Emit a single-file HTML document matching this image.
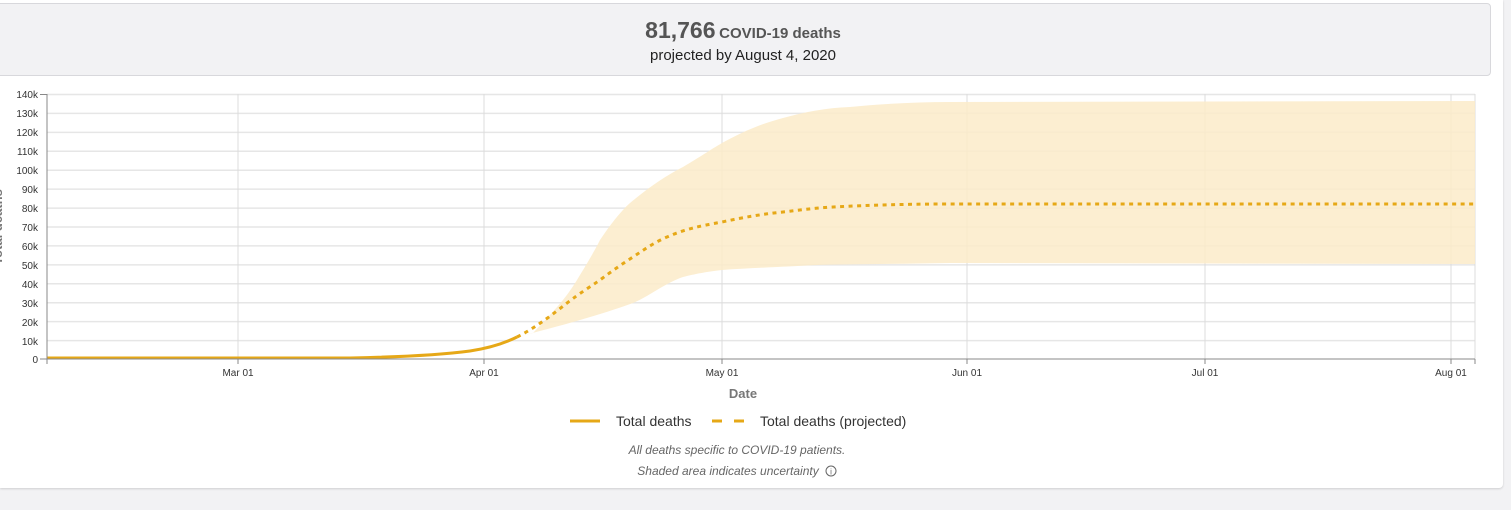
<!DOCTYPE html>
<html><head><meta charset="utf-8"><style>
body{margin:0;width:1511px;height:510px;background:#f2f2f4;font-family:"Liberation Sans",sans-serif;overflow:hidden;position:relative}
.card{position:absolute;left:0;top:0;width:1503px;height:488px;background:#fff;border-radius:0 0 4px 0;box-shadow:0 1px 2px rgba(0,0,0,.15)}
.hdr{position:absolute;left:-5px;top:3px;width:1494px;height:71px;background:#f2f2f4;border:1px solid #d8d8dc;border-radius:4px;text-align:center;color:#333}
</style></head><body>
<div class="card"></div>
<div class="hdr">
<div style="margin-top:13px;font-size:13px"><span style="font-size:23px;font-weight:bold;color:#555">81,766</span> <span style="font-size:15px;font-weight:bold;color:#555">COVID-19 deaths</span></div>
<div style="margin-top:3px;font-size:15px;color:#222">projected by August 4, 2020</div>
</div>
<svg width="1511" height="510" style="position:absolute;left:0;top:0" font-family="Liberation Sans, sans-serif">
<g stroke="#e6e6e6" stroke-width="1.5">
<line x1="47" x2="1475" y1="94.5" y2="94.5"/><line x1="47" x2="1475" y1="113.4" y2="113.4"/><line x1="47" x2="1475" y1="132.4" y2="132.4"/><line x1="47" x2="1475" y1="151.3" y2="151.3"/><line x1="47" x2="1475" y1="170.2" y2="170.2"/><line x1="47" x2="1475" y1="189.1" y2="189.1"/><line x1="47" x2="1475" y1="208.1" y2="208.1"/><line x1="47" x2="1475" y1="227" y2="227"/><line x1="47" x2="1475" y1="245.9" y2="245.9"/><line x1="47" x2="1475" y1="264.9" y2="264.9"/><line x1="47" x2="1475" y1="283.8" y2="283.8"/><line x1="47" x2="1475" y1="302.7" y2="302.7"/><line x1="47" x2="1475" y1="321.6" y2="321.6"/><line x1="47" x2="1475" y1="340.6" y2="340.6"/>
</g>
<g stroke="#dcdcdc"><line x1="238" x2="238" y1="94" y2="359"/><line x1="484" x2="484" y1="94" y2="359"/><line x1="722" x2="722" y1="94" y2="359"/><line x1="967" x2="967" y1="94" y2="359"/><line x1="1205" x2="1205" y1="94" y2="359"/><line x1="1451" x2="1451" y1="94" y2="359"/><line x1="1475" x2="1475" y1="94" y2="359"/></g>
<path d="M517,337 L533,333 C550,315 565,300 577,280 C588,262 595,250 600,240 C610,225 620,212 630,203 C648,188 665,176 683,167 C700,157 710,150 722,143 C740,133 760,124 783,118 C805,112 825,108 850,107 C880,104 915,102 950,102 L1475,101 L1475,264 L950,263 C900,264 850,264 817,265 C780,267 750,268 722,270 C705,272 695,274 683,277 C665,283 650,296 633,303 C600,315 560,326 517,337Z" fill="#fcebc9" opacity="0.85"/>
<path d="M517,337 C535,328 552,315 567,303 C580,293 590,287 600,280 C612,271 622,264 633,257 C645,249 655,242 667,237 C685,229 700,226 722,222 C745,217 763,214 783,212 C800,210 815,208 833,207 C870,205 910,204 950,204 L1475,204" fill="none" stroke="#e6a817" stroke-width="3" stroke-dasharray="4,4.5"/>
<path d="M47,358 L350,358 C400,357 440,355 470,351 C490,348 505,343 517,337" fill="none" stroke="#e6a817" stroke-width="3"/>
<g stroke="#888"><line x1="47" x2="47" y1="94" y2="364"/><line x1="47" x2="1475" y1="359" y2="359"/><line x1="1475" x2="1475" y1="359" y2="364"/><line x1="238" x2="238" y1="359" y2="364"/><line x1="484" x2="484" y1="359" y2="364"/><line x1="722" x2="722" y1="359" y2="364"/><line x1="967" x2="967" y1="359" y2="364"/><line x1="1205" x2="1205" y1="359" y2="364"/><line x1="1451" x2="1451" y1="359" y2="364"/></g>
<g font-size="10" fill="#333" text-anchor="end">
<text x="38" y="98">140k</text><text x="38" y="117">130k</text><text x="38" y="136">120k</text><text x="38" y="155">110k</text><text x="38" y="174">100k</text><text x="38" y="193">90k</text><text x="38" y="212">80k</text><text x="38" y="231">70k</text><text x="38" y="250">60k</text><text x="38" y="269">50k</text><text x="38" y="288">40k</text><text x="38" y="307">30k</text><text x="38" y="326">20k</text><text x="38" y="345">10k</text><text x="38" y="363">0</text>
</g>
<g stroke="#888"><line x1="40" x2="47" y1="94.5" y2="94.5"/><line x1="40" x2="47" y1="359" y2="359"/></g>
<g font-size="10" fill="#333" text-anchor="middle"><text x="238" y="376">Mar 01</text><text x="484" y="376">Apr 01</text><text x="722" y="376">May 01</text><text x="967" y="376">Jun 01</text><text x="1205" y="376">Jul 01</text><text x="1451" y="376">Aug 01</text></g>
<text x="2" y="227" transform="rotate(-90 2 227)" font-size="13" font-weight="bold" fill="#777" text-anchor="middle">Total deaths</text>
<text x="743" y="398" font-size="13" font-weight="bold" fill="#777" text-anchor="middle">Date</text>
<line x1="570" x2="600" y1="421" y2="421" stroke="#e6a817" stroke-width="3"/>
<text x="616" y="426" font-size="14" fill="#333">Total deaths</text>
<line x1="712" x2="744" y1="421" y2="421" stroke="#e6a817" stroke-width="3" stroke-dasharray="10,12"/>
<text x="760" y="426" font-size="14" fill="#333">Total deaths (projected)</text>
<text x="737" y="454" font-size="12" font-style="italic" fill="#666" text-anchor="middle">All deaths specific to COVID-19 patients.</text>
<text x="728" y="475" font-size="12" font-style="italic" fill="#666" text-anchor="middle">Shaded area indicates uncertainty</text>
<circle cx="831" cy="471" r="5" fill="none" stroke="#666"/><text x="831" y="474.5" font-size="8" fill="#666" text-anchor="middle">i</text>
</svg>
</body></html>
